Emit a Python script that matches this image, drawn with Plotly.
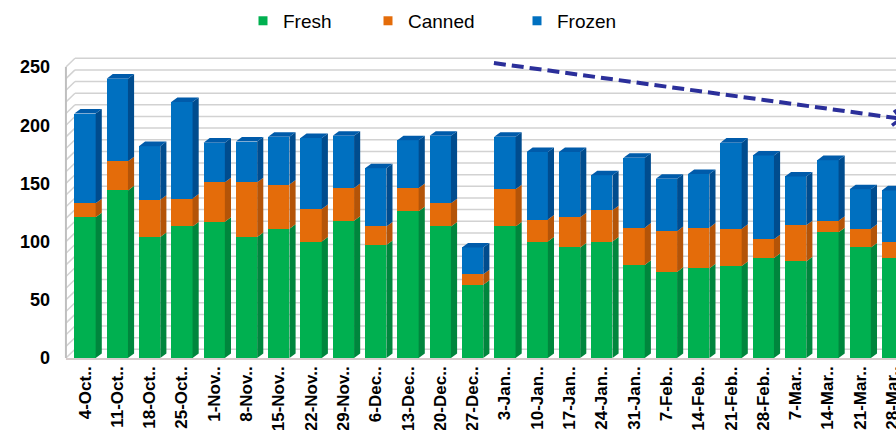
import plotly.graph_objects as go

# Weekly produce volumes by storage type
weeks = ["4-Oct", "11-Oct", "18-Oct", "25-Oct", "1-Nov", "8-Nov", "15-Nov",
         "22-Nov", "29-Nov", "6-Dec", "13-Dec", "20-Dec", "27-Dec", "3-Jan",
         "10-Jan", "17-Jan", "24-Jan", "31-Jan", "7-Feb", "14-Feb", "21-Feb",
         "28-Feb", "7-Mar", "14-Mar", "21-Mar", "28-Mar"]
fresh = [121, 144, 104, 113, 117, 104, 111, 100, 118, 97, 126, 113, 63,
         113, 100, 95, 100, 80, 74, 77, 79, 86, 83, 108, 95, 86]
canned = [12, 25, 32, 24, 34, 47, 38, 28, 28, 16, 20, 20, 9,
          32, 19, 26, 27, 32, 35, 35, 32, 16, 31, 10, 16, 14]
frozen = [77, 71, 46, 83, 34, 35, 41, 61, 45, 50, 41, 58, 23,
          45, 58, 56, 30, 60, 45, 46, 74, 72, 42, 52, 34, 44]

tick_labels = [w + ".." for w in weeks]
y_ticks = [0, 50, 100, 150, 200, 250]

# Trend arrow end points (category position, value)
trend_x = [12.66, 25.33]
trend_y = [253.4, 205.3]

series = [
    ("Fresh", fresh, "#00B050", "#00863D"),
    ("Canned", canned, "#E46C0A", "#B45408"),
    ("Frozen", frozen, "#0070C0", "#004C8E"),
]
top_color = "#005BAA"

FONT = "Liberation Sans, Arial, sans-serif"
BAR_W = 0.66      # front face width (category units)
DEPTH_X = 0.19    # pseudo-3D depth, horizontal
DEPTH_Y = 3.9     # pseudo-3D depth, vertical
X_RANGE = [-0.712, 25.108]
Y_RANGE = [-3.4, 260.3]
WALL_X = -0.59
BACK_X = -0.31
GRID_LIFT = 7.5

n = len(weeks)
xs_idx = list(range(n))

fig = go.Figure()

# Front faces of the stacked columns
for name, vals, col, _ in series:
    fig.add_trace(go.Bar(
        x=xs_idx, y=vals, width=BAR_W, name=name,
        marker=dict(color=col, line=dict(width=0)),
        showlegend=False,
    ))

# Side faces, one polygon per stacked segment
base = [0] * n
for name, vals, _, side_col in series:
    px, py = [], []
    for i in range(n):
        b = base[i]
        t = b + vals[i]
        xr = i + BAR_W / 2
        px += [xr, xr + DEPTH_X, xr + DEPTH_X, xr, xr, None]
        py += [b, b + DEPTH_Y, t + DEPTH_Y, t, b, None]
        base[i] = t
    fig.add_trace(go.Scatter(
        x=px, y=py, mode="lines", fill="toself", fillcolor=side_col,
        line=dict(width=0, color=side_col), hoverinfo="skip", showlegend=False,
    ))

# Top faces of the columns
tx, ty = [], []
for i in range(n):
    t = base[i]
    xl, xr = i - BAR_W / 2, i + BAR_W / 2
    tx += [xl, xl + DEPTH_X, xr + DEPTH_X, xr, xl, None]
    ty += [t, t + DEPTH_Y, t + DEPTH_Y, t, t, None]
fig.add_trace(go.Scatter(
    x=tx, y=ty, mode="lines", fill="toself", fillcolor=top_color,
    line=dict(width=0, color=top_color), hoverinfo="skip", showlegend=False,
))

# Dashed trend line
fig.add_trace(go.Scatter(
    x=trend_x, y=trend_y, mode="lines",
    line=dict(color="#2B2F9A", width=4, dash="12px,6px"),
    hoverinfo="skip", showlegend=False,
))
slope = (trend_y[1] - trend_y[0]) / (trend_x[1] - trend_x[0])
ax0 = trend_x[1] - 0.3
fig.add_annotation(
    x=trend_x[1], y=trend_y[1], ax=ax0, ay=trend_y[1] - 0.3 * slope,
    xref="x", yref="y", axref="x", ayref="y", text="",
    showarrow=True, arrowhead=4, arrowsize=1, arrowwidth=3,
    arrowcolor="#2B2F9A",
)

# Legend entries, one legend each so they can be spaced freely
legend_px = [243, 368, 517]
plot_left, plot_w = 62, 834
for k, (name, _, col, _) in enumerate(series):
    key = "legend" if k == 0 else f"legend{k + 1}"
    fig.add_trace(go.Scatter(
        x=[None], y=[None], mode="markers", name=name,
        marker=dict(symbol="square", size=9, color=col),
        legend=key, showlegend=True,
    ))
    fig.update_layout({key: dict(
        x=(legend_px[k] - plot_left) / plot_w, y=1.111,
        xanchor="left", yanchor="middle", orientation="h",
        bgcolor="rgba(0,0,0,0)",
        font=dict(family=FONT, size=19, color="#000000"),
    )})

# Back wall gridlines, left wall and floor
shapes = []
for v in range(0, 251, 10):
    shapes.append(dict(type="line", xref="x", yref="y", layer="below",
                       x0=WALL_X, y0=v, x1=BACK_X, y1=v + GRID_LIFT,
                       line=dict(color="#D2D2D2", width=1.5)))
    shapes.append(dict(type="line", xref="x", yref="y", layer="below",
                       x0=BACK_X, y0=v + GRID_LIFT, x1=X_RANGE[1] + 1, y1=v + GRID_LIFT,
                       line=dict(color="#D2D2D2", width=1.5)))
shapes.append(dict(type="line", xref="x", yref="y", layer="below",
                   x0=WALL_X, y0=0, x1=WALL_X, y1=250,
                   line=dict(color="#BFBFBF", width=2)))
shapes.append(dict(type="line", xref="x", yref="y", layer="below",
                   x0=WALL_X, y0=-0.9, x1=X_RANGE[1] + 1, y1=-0.9,
                   line=dict(color="#D6CCCC", width=2)))

fig.update_layout(
    width=896, height=430,
    margin=dict(l=62, r=0, t=55, b=68, autoexpand=False),
    paper_bgcolor="white", plot_bgcolor="white",
    barmode="stack", bargap=0,
    shapes=shapes,
    font=dict(family=FONT, color="#000000"),
    xaxis=dict(
        range=X_RANGE, tickmode="array", tickvals=xs_idx, ticktext=tick_labels,
        tickangle=-90, showgrid=False, zeroline=False, showline=False,
        ticklabeloverflow="allow", automargin=False,
        tickfont=dict(family=FONT, size=17, color="#000000", weight="bold"),
    ),
    yaxis=dict(
        range=Y_RANGE, tickmode="array", tickvals=y_ticks,
        showgrid=False, zeroline=False, showline=False,
        ticklabelstandoff=11, automargin=False,
        tickfont=dict(family=FONT, size=18, color="#000000", weight="bold"),
    ),
)

fig.write_html("out.html")
